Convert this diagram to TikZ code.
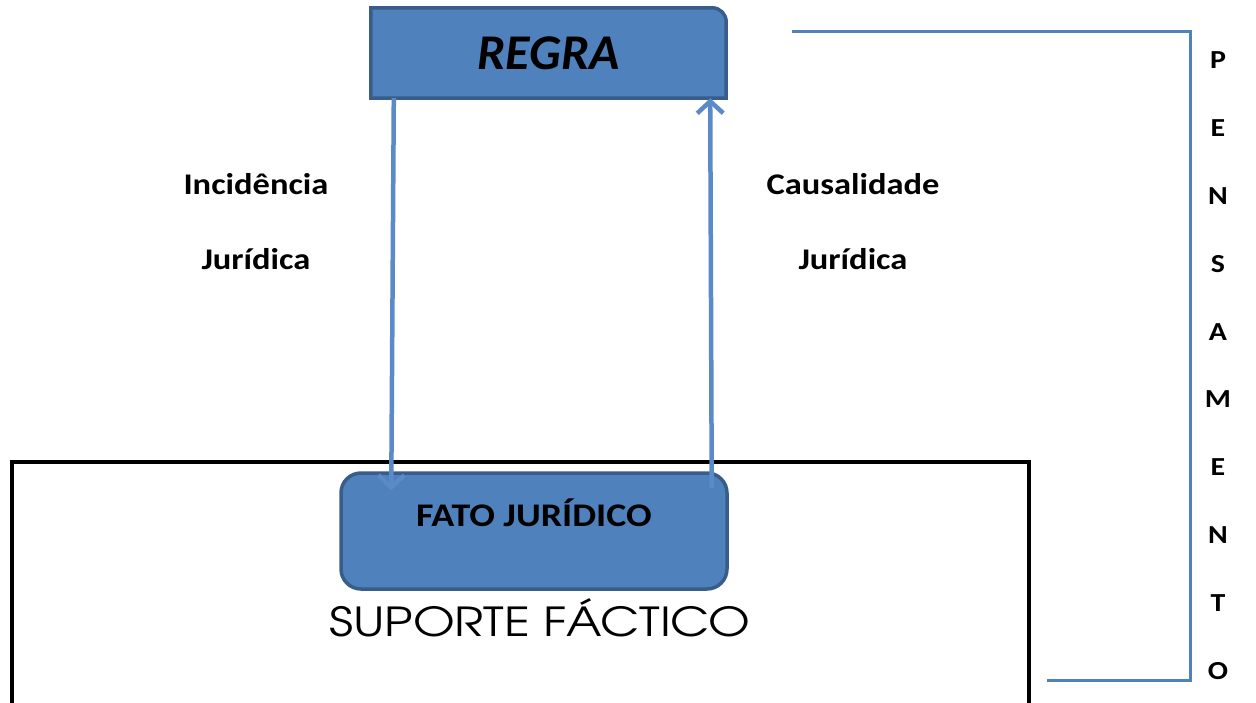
\documentclass[tikz,border=0pt]{standalone}
\usepackage{fontspec}
\setmainfont{Carlito}
\newfontfamily\wide{Carlito}[FakeStretch=1.15]
\newfontfamily\gothic{texgyreadventor-regular.otf}[FakeStretch=1.2]
\usetikzlibrary{arrows.meta,calc}
\definecolor{boxblue}{HTML}{4F81BD}
\definecolor{boxedge}{HTML}{385D8A}
\definecolor{linkblue}{HTML}{5A8BC8}
\begin{document}
\begin{tikzpicture}[x=1pt,y=-1pt,
  boxstyle/.style={fill=boxblue,draw=boxedge,line width=3.5pt},
  link/.style={draw=linkblue,line width=4.5pt,-{Straight Barb[length=12pt,width=26pt]}},
  lbl/.style={font=\wide\fontsize{30}{75}\selectfont\bfseries,align=center,inner sep=0pt}]
\path[use as bounding box] (0,0) rectangle (1256,703);
\draw[line width=4.5pt] (12,462) rectangle (1029,720);
% regra
\node[minimum width=355pt,minimum height=90pt,inner sep=0pt] (regra) at (548.5,53) {};
\draw[boxstyle] (regra.south west) -- (regra.north west) [rounded corners=14pt] -- (regra.north east) [sharp corners] -- (regra.south east) -- cycle;
\node[font=\fontsize{50}{50}\selectfont\bfseries\itshape] (regratxt) at (regra) {REGRA};
% fato juridico
\node[boxstyle,rounded corners=20pt,minimum width=386pt,minimum height=116pt] (fato) at (534,531) {};
\node[font=\wide\fontsize{33}{33}\selectfont\bfseries] (fatotxt) at ($(fato.north)+(0,42)$) {FATO JURÍDICO};
\node[font=\fontsize{40}{40}\selectfont\gothic] (suporte) at (540,618) {SUPORTE FÁCTICO};
% setas
\draw[link] ($(regra.south west)+(23,0)$) -- ($(fato.north west)+(52,19)$);
\draw[link] ($(fato.north east)+(-17,17)$) -- ($(regra.south east)+(-16,0)$);
\node[lbl] (incid) at (256,222) {Incidência\\Jurídica};
\node[lbl] (causal) at (853,222) {Causalidade\\Jurídica};
% pensamento
\coordinate (brtop) at (792,32);
\coordinate (brcorner) at (1190,680);
\coordinate (brbot) at (1047,680);
\draw[boxblue,line width=3pt] (brtop) -| (brcorner) -- (brbot);
\foreach \l [count=\i] in {P,E,N,S,A,M,E,N,T,O}
  \node[font=\wide\fontsize{26}{26}\selectfont\bfseries] (l\i) at (1218,{60+(\i-1)*67.9}) {\l};
\end{tikzpicture}
\end{document}
